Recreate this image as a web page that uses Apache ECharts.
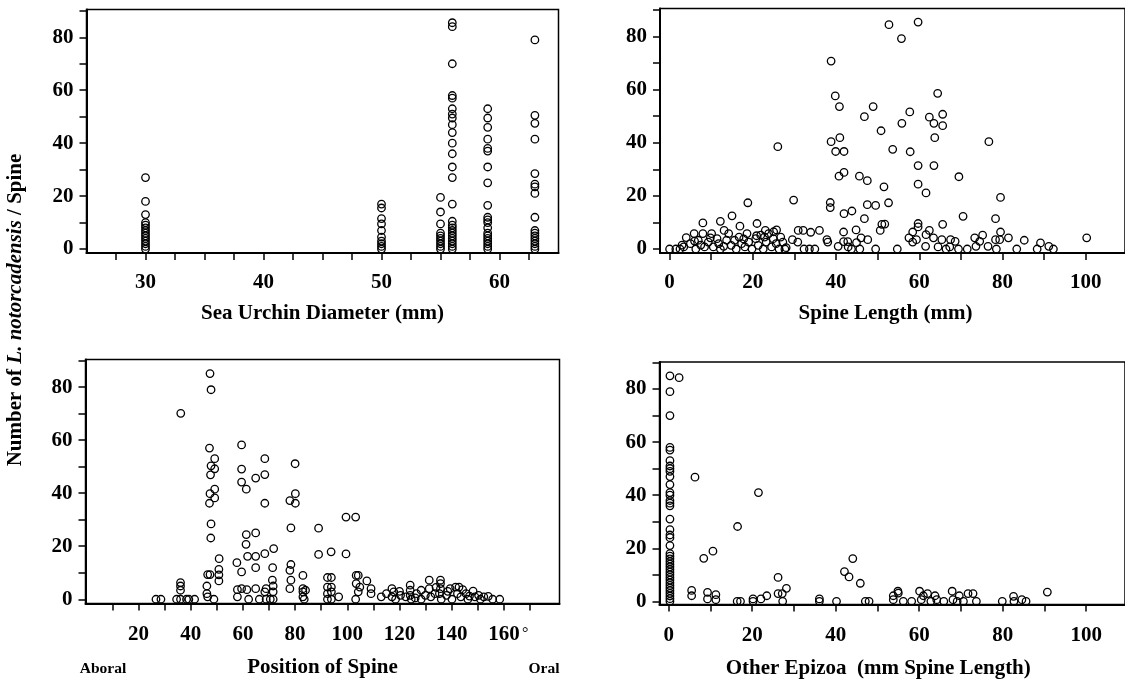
<!DOCTYPE html>
<html>
<head>
<meta charset="utf-8">
<script src="https://cdn.jsdelivr.net/npm/echarts@6/dist/echarts.min.js"></script>
<style>
html,body{margin:0;padding:0;background:#fff;}
#chart{width:1125px;height:682px;}
</style>
</head>
<body>
<div id="chart"></div>
<script>
// ---------- DATA ----------
// Panel 1: Sea urchin diameter (mm) columns
const diameterCats = [30, 50, 55, 56, 59, 63];
const urchin30 = [27, 18, 13, 10, 9, 8, 7, 6, 5, 4, 3, 2, 1, 0];
const urchin50 = [17, 15.5, 11.5, 9.5, 7, 4.5, 3, 2, 1, 0];
const urchin55 = [19.5, 14, 9.5, 6, 5, 4, 3, 2, 1, 0];
const urchin56 = [85.5, 84, 70, 58, 57, 53, 51, 49.5, 47, 44, 40, 36, 31, 27, 17, 10.5, 9, 8, 7, 6, 5, 4, 3, 2, 1, 0];
const urchin59 = [53, 49.5, 46, 41.5, 38, 37, 31, 25, 16.5, 12, 11, 10, 8, 6, 5, 4, 3, 2, 1, 0];
const urchin63 = [79, 50.5, 47.5, 41.5, 28.5, 24.5, 23.5, 21, 12, 7, 6, 5, 4, 3, 2, 1, 0];

// Panel 2: Spine length (mm) vs count
const spineLengthPts = [
[52.7,84.4],[59.7,85.4],[55.7,79.2],[38.8,70.7],[39.8,57.6],[64.4,58.6],[40.8,53.6],[48.9,53.6],[57.7,51.6],[46.8,49.8],
[62.4,49.6],[65.6,50.7],[55.8,47.3],[63.5,47.3],[65.6,46.4],[50.8,44.5],[40.9,41.9],[63.7,41.9],[26.0,38.5],[38.8,40.4],
[53.6,37.5],[39.9,36.7],[41.9,36.7],[57.8,36.6],[76.7,40.4],[59.7,31.4],[63.5,31.4],[41.9,28.8],[40.7,27.4],[45.6,27.4],
[47.5,25.7],[69.5,27.2],[59.7,24.4],[51.5,23.4],[61.6,21.1],[79.5,19.4],[29.8,18.4],[18.8,17.4],[38.6,17.5],[38.6,15.6],
[52.6,17.4],[47.5,16.7],[49.5,16.4],[15.0,12.5],[70.5,12.3],[43.8,14.3],[41.9,13.3],[46.8,11.4],[12.2,10.4],[78.3,11.4],
[8.0,9.8],[21.0,9.6],[65.6,9.3],[59.7,9.6],[51.0,9.3],[51.7,9.4],[16.9,8.6],[59.7,8.3],[50.6,7.0],[62.4,7.0],
[44.8,7.2],[30.9,7.0],[32.1,7.0],[36.0,7.0],[33.9,6.3],[41.8,6.4],[25.7,7.2],[23.0,7.0],[20.9,5.0],[79.5,6.4],
[75.2,5.2],[58.4,6.4],[61.6,5.4],[81.4,4.2],[100.2,4.2],[73.3,4.2],[85.2,3.3],[63.4,4.2],[57.5,4.2],[46.0,4.2],
[47.6,3.5],[78.3,3.5],[79.3,3.5],[74.5,2.9],[59.3,3.5],[58.4,2.6],[65.4,3.5],[67.5,3.5],[68.6,2.9],[89.1,2.3],
[91.1,1.0],[92.2,0],[88.3,0],[83.4,0],[78.5,0],[76.5,1.0],[73.6,1.0],[71.5,0],[69.4,0],[67.3,0.8],
[66.4,0],[64.5,0.8],[61.5,1.0],[54.7,0],[49.5,0],[45.7,0],[43.7,0],[42.9,0.8],[40.5,1.0],[44.9,2.4],
[42.8,2.8],[41.8,2.8],[38.0,2.6],[37.8,3.5],[34.9,0],[33.6,0],[32.3,0],[30.8,2.6],[29.5,3.5],[27.7,0],
[0,0],[1.5,0],[2.5,0],[3.4,0.8],[4,4.3],[5,2],[5.9,5.8],[6.3,0],[6.9,3.3],[8,5.8],
[8.4,0.8],[9.3,2.6],[10.1,5.8],[10.5,0.8],[11.4,3.9],[11.8,2],[12.2,0],[13.1,7],[13.7,3.3],[14.2,5.8],
[14.8,1.4],[15.6,3.3],[16,0],[16.7,4.5],[17.3,2],[18.1,0.8],[18.6,5.8],[19,2.6],[19.8,0],[20.7,3.9],
[21.3,1.4],[21.9,5.2],[22.5,0],[23.2,2.6],[23.8,5.8],[24.5,0.8],[24.9,3.9],[25.6,2],[26.3,0],[26.7,4.5],
[27.2,2.6],[7.5,1.5],[9.8,4.2],[13,1],[17.8,3.8],[22.8,4.5],[25,6.5],[6,3],[3,1.5],[28,0.5]
];

// Panel 3: Position of spine (degrees) vs count
const positionPts = [
[26.7,0],[28.6,0],[34.6,0],[36.2,70.1],[36.1,6.3],[36.1,5.0],[36.1,3.4],[36.1,0],[38.4,0],[39.3,0],[41.5,0],
[47.4,85.1],[47.8,79.0],[47.2,57.0],[49.2,53.0],[47.8,50.3],[49.2,49.2],[47.6,46.9],[49.2,41.5],[47.4,39.8],[49.2,38.2],
[47.2,36.2],[47.8,28.4],[47.7,23.1],[50.9,15.3],[50.8,11.3],[50.8,9.2],[50.8,6.9],[46.5,9.3],[47.4,9.3],[46.2,5.0],
[46.2,2.1],[46.5,0.9],[48.9,0],[59.5,58.2],[59.5,49.1],[59.5,44.2],[61.3,41.5],[61.3,24.4],[61.2,20.7],[64.9,45.7],
[68.4,53.0],[68.4,47.0],[68.4,36.2],[64.9,25.0],[61.8,16.2],[64.9,16.2],[68.4,17.2],[71.8,19.1],[57.7,13.8],[59.5,10.3],
[64.9,11.9],[71.4,11.9],[71.3,7.2],[71.6,5.0],[71.6,2.8],[71.6,0],[70.5,0],[59.5,4.0],[57.9,3.6],[57.9,0.9],
[61.5,3.6],[62.2,0],[64.9,4.0],[66.3,0],[68.4,2.8],[68.9,4.0],[68.9,0],[80.0,51.1],[80.1,39.8],[80.1,36.2],
[78.0,37.2],[78.4,26.9],[78.4,13.1],[78.0,10.9],[78.4,7.2],[78.0,4.0],[83.0,9.0],[83.0,4.0],[83.0,2.8],[84.0,3.4],
[83.5,0],[83.0,0.9],[89.0,26.8],[89.0,16.9],[93.8,17.9],[92.4,8.2],[93.9,8.2],[92.4,4.6],[93.9,4.6],[92.4,2.1],
[92.4,0],[93.9,0],[93.9,2.8],[96.7,0.9],[99.5,31.0],[103.2,31.0],[99.5,17.1],[103.4,9.0],[104.2,9.0],[103.4,5.9],
[104.8,4.6],[104.2,2.8],[103.2,0],[107.5,6.9],[109.1,4.0],[109.1,2.1],[113.0,0.9],[115.0,2.1],[117.1,4.0],[117.8,2.8],
[117.1,0.9],[118.5,0],[120.4,1.5],[122.4,0.9],[124.1,5.3],[124.1,3.4],[124.1,1.5],[124.5,0],[126.5,2.1],[128.3,3.4],
[128.3,0],[129.9,1.5],[131.4,7.2],[131.4,4.0],[132.0,0.9],[133.6,2.1],[135.7,7.2],[135.7,5.9],[135.7,4.0],[135.3,2.1],
[136.0,0],[138.0,1.5],[139.4,4.0],[140.1,0],[141.5,4.6],[142.2,2.1],[142.8,4.6],[143.5,0.9],[144.2,3.6],[145.5,2.1],
[146.2,0],[148.2,3.1],[148.9,0.9],[150.3,1.5],[151.0,0],[152.3,0.9],[154.0,1.1],[155.7,0],[158.4,0],[120.0,3.0],
[126.0,0.5],[134.0,4.5],[138.5,3.0],[146.8,1.2]
];

// Panel 4: Other epizoa (mm spine length) vs count
const epizoaZeroX = 0.3;
const epizoaZeroCol = [85, 79, 70, 58, 57, 53, 51, 50, 49, 47, 44, 41, 40, 38, 37, 36, 31, 27, 25, 24, 21, 18, 17, 16, 15, 14, 13, 12, 11, 10, 9, 8, 7, 6, 5, 4, 3, 2, 1, 0];
const epizoaPts = [
[2.5,84.3],[6.3,46.8],[5.5,4.1],[5.5,2.1],[8.4,16.2],[10.6,18.9],[9.3,3.4],[9.3,0.9],[11.3,2.5],[11.3,0.6],
[16.5,28.2],[16.4,0],[17.2,0],[20.2,0.9],[20.2,0],[21.5,41.0],[22.1,0.9],[23.5,2.1],[26.2,9.0],[26.2,2.9],
[27.2,2.9],[28.2,4.9],[27.3,0],[36.1,0.9],[36.1,0],[40.2,0],[42.1,11.2],[43.2,9.2],[44.1,16.1],[45.9,6.8],
[47.1,0],[48.0,0],[53.8,2.1],[53.8,0.6],[54.9,3.8],[55.0,3.1],[56.2,0],[58.2,0],[60.1,3.8],[60.5,0.6],
[61.0,2.1],[62.0,2.9],[62.8,0],[63.8,2.1],[64.2,0.6],[65.9,0],[67.9,3.8],[68.1,0.6],[69.6,2.1],[69.1,0],
[70.6,0],[71.7,2.9],[72.9,2.9],[73.7,0],[79.9,0],[82.6,1.9],[82.7,0],[84.6,0.6],[85.6,0],[90.7,3.5]
];

// Tick values
const yTicks = [0, 10, 20, 30, 40, 50, 60, 70, 80, 90];
const yLabels = [0, 20, 40, 60, 80];
const diamTicks = [27.5, 30, 32.5, 35, 37.5, 40, 42.5, 45, 47.5, 50, 52.5, 55, 57.5, 60, 62.5];
const diamLabels = [30, 40, 50, 60];
const lenTicks = [0, 10, 20, 30, 40, 50, 60, 70, 80, 90, 100];
const lenLabels = [0, 20, 40, 60, 80, 100];
const posTicks = [10, 20, 30, 40, 50, 60, 70, 80, 90, 100, 110, 120, 130, 140, 150, 160, 170];
const posLabels = [20, 40, 60, 80, 100, 120, 140, 160];

// ---------- BUILD ----------
const FONT = "'Liberation Serif', 'Times New Roman', serif";
const col = (x, arr) => arr.map(v => [x, v]);
const urchinData = [].concat(
  col(diameterCats[0], urchin30), col(diameterCats[1], urchin50), col(diameterCats[2], urchin55),
  col(diameterCats[3], urchin56), col(diameterCats[4], urchin59), col(diameterCats[5], urchin63)
);
const epizoaData = col(epizoaZeroX, epizoaZeroCol).concat(epizoaPts);

const grids = [
  {left: 86.5, top: 9.5, width: 472, height: 243.5},
  {left: 660, top: 8.5, right: -6, height: 244.5},
  {left: 85.5, top: 359.5, width: 474, height: 244},
  {left: 659.5, top: 362, right: -6, height: 242.5}
];
const xRanges = [[25, 65], [-2.3, 109.4], [-0.3, 181.3], [-2.2, 109.3]];
const yRanges = [[-1.5, 90.5], [-1.5, 90.5], [-1.6, 90.4], [-1.2, 90.2]];
const xTickSets = [diamTicks, lenTicks, posTicks, lenTicks];
const xLabelSets = [diamLabels, lenLabels, posLabels, lenLabels];
const xNames = ['Sea Urchin Diameter (mm)', 'Spine Length (mm)', 'Position of Spine', 'Other Epizoa  (mm Spine Length)'];
const xNamePad = [[0,0,0,0],[0,14,0,0],[0,0,0,0],[0,28,0,0]];
const xLabelMargin = [19, 19, 21, 21];
const xNameGap = [50, 50, 54, 54];
const datasets = [urchinData, spineLengthPts, positionPts, epizoaData];

const axisLine = {lineStyle: {color: '#000', width: 2}, onZero: false};
const axisTick = (vals) => ({show: true, inside: false, length: 7, lineStyle: {color: '#000', width: 1.5}, customValues: vals});
const labelStyle = {color: '#000', fontFamily: FONT, fontWeight: 'bold', fontSize: 21};

const option = {
  animation: false,
  backgroundColor: '#fff',
  grid: grids.map(g => Object.assign({show: true, borderColor: '#000', borderWidth: 1.5, backgroundColor: 'transparent', containLabel: false}, g)),
  xAxis: grids.map((g, i) => ({
    type: 'value', gridIndex: i, min: xRanges[i][0], max: xRanges[i][1],
    axisLine: axisLine, axisTick: axisTick(xTickSets[i]),
    axisLabel: Object.assign({margin: xLabelMargin[i], customValues: xLabelSets[i]}, labelStyle),
    splitLine: {show: false},
    name: xNames[i], nameLocation: 'middle', nameGap: xNameGap[i],
    nameTextStyle: {color: '#000', fontFamily: FONT, fontWeight: 'bold', fontSize: 21, padding: xNamePad[i]}
  })),
  yAxis: grids.map((g, i) => ({
    type: 'value', gridIndex: i, min: yRanges[i][0], max: yRanges[i][1],
    axisLine: axisLine, axisTick: axisTick(yTicks),
    axisLabel: Object.assign({margin: 13, customValues: yLabels}, labelStyle),
    splitLine: {show: false}
  })),
  series: datasets.map((d, i) => ({
    type: 'scatter', xAxisIndex: i, yAxisIndex: i, data: d,
    symbol: 'circle', symbolSize: 7.5,
    itemStyle: {color: 'rgba(255,255,255,0)', borderColor: '#000', borderWidth: 1.3, opacity: 1},
    emphasis: {disabled: true}
  })),
  graphic: [
    {type: 'text', x: 16, y: 310, rotation: Math.PI / 2,
      style: {text: '{a|Number of }{b|L. notorcadensis}{a| / Spine}', align: 'center', verticalAlign: 'middle',
        textAlign: 'center', textVerticalAlign: 'middle',
        rich: {a: {fontFamily: FONT, fontWeight: 'bold', fontSize: 21, fill: '#000', color: '#000'},
               b: {fontFamily: FONT, fontWeight: 'bold', fontStyle: 'italic', fontSize: 21, fill: '#000', color: '#000'}}}},
    {type: 'text', x: 103, y: 669, style: {text: 'Aboral', align: 'center', verticalAlign: 'middle', textAlign: 'center', textVerticalAlign: 'middle', fontFamily: FONT, fontWeight: 'bold', fontSize: 15.5, fill: '#000'}},
    {type: 'text', x: 544, y: 669, style: {text: 'Oral', align: 'center', verticalAlign: 'middle', textAlign: 'center', textVerticalAlign: 'middle', fontFamily: FONT, fontWeight: 'bold', fontSize: 15.5, fill: '#000'}},
    {type: 'text', x: 522, y: 626, style: {text: '°', align: 'left', verticalAlign: 'top', textAlign: 'left', textVerticalAlign: 'top', fontFamily: FONT, fontWeight: 'normal', fontSize: 16, fill: '#000'}}
  ]
};
const chart = echarts.init(document.getElementById('chart'), null, {renderer: 'canvas'});
chart.setOption(option);
</script>
</body>
</html>
